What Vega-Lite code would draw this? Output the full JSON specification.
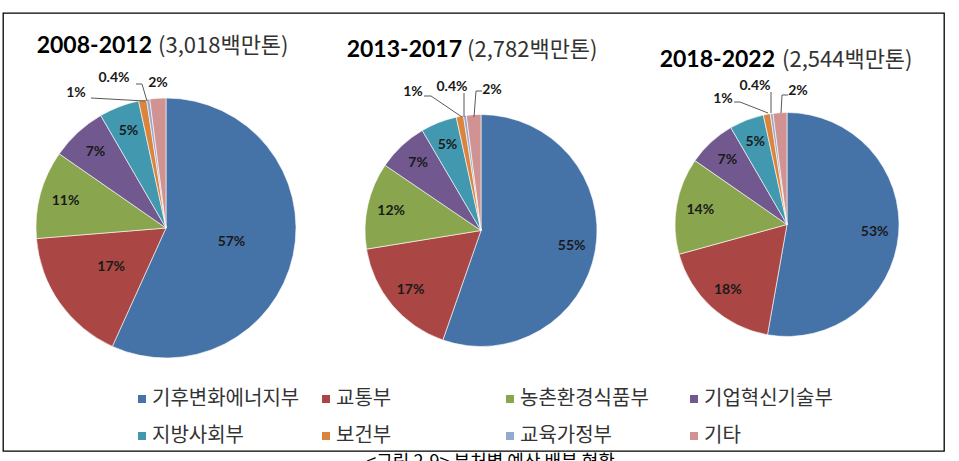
{
"$schema": "https://vega.github.io/schema/vega-lite/v6.json",
"width": 941, "height": 438, "autosize": "none",
"padding": {"left": 3, "top": 13, "right": 15, "bottom": 10},
"background": "white",
"config": {"view": {"stroke": "#000000", "strokeWidth": 1.3}},
"title": {"text": "<그림 2-9> 부처별 예산 배분 현황", "orient": "bottom", "anchor": "middle", "offset": 3, "dx": 17, "font": "Noto Sans CJK KR", "fontSize": 18, "fontWeight": "normal", "color": "#000000", "baseline": "top"},
"data": {"values": [
{"period": "2008-2012", "dept": "기후변화에너지부", "ord": 1, "share": 0.57},
{"period": "2008-2012", "dept": "교통부", "ord": 2, "share": 0.17},
{"period": "2008-2012", "dept": "농촌환경식품부", "ord": 3, "share": 0.11},
{"period": "2008-2012", "dept": "기업혁신기술부", "ord": 4, "share": 0.07},
{"period": "2008-2012", "dept": "지방사회부", "ord": 5, "share": 0.05},
{"period": "2008-2012", "dept": "보건부", "ord": 6, "share": 0.01},
{"period": "2008-2012", "dept": "교육가정부", "ord": 7, "share": 0.004},
{"period": "2008-2012", "dept": "기타", "ord": 8, "share": 0.02},
{"period": "2013-2017", "dept": "기후변화에너지부", "ord": 1, "share": 0.55},
{"period": "2013-2017", "dept": "교통부", "ord": 2, "share": 0.17},
{"period": "2013-2017", "dept": "농촌환경식품부", "ord": 3, "share": 0.12},
{"period": "2013-2017", "dept": "기업혁신기술부", "ord": 4, "share": 0.07},
{"period": "2013-2017", "dept": "지방사회부", "ord": 5, "share": 0.05},
{"period": "2013-2017", "dept": "보건부", "ord": 6, "share": 0.01},
{"period": "2013-2017", "dept": "교육가정부", "ord": 7, "share": 0.004},
{"period": "2013-2017", "dept": "기타", "ord": 8, "share": 0.02},
{"period": "2018-2022", "dept": "기후변화에너지부", "ord": 1, "share": 0.53},
{"period": "2018-2022", "dept": "교통부", "ord": 2, "share": 0.18},
{"period": "2018-2022", "dept": "농촌환경식품부", "ord": 3, "share": 0.14},
{"period": "2018-2022", "dept": "기업혁신기술부", "ord": 4, "share": 0.07},
{"period": "2018-2022", "dept": "지방사회부", "ord": 5, "share": 0.05},
{"period": "2018-2022", "dept": "보건부", "ord": 6, "share": 0.01},
{"period": "2018-2022", "dept": "교육가정부", "ord": 7, "share": 0.004},
{"period": "2018-2022", "dept": "기타", "ord": 8, "share": 0.02}
]},
"layer": [
{
"transform": [{"filter": "datum.period == '2008-2012'"}],
"layer": [
{"mark": {"type": "arc", "radius": 130, "yOffset": -4, "stroke": "#ffffff", "strokeWidth": 0.6},
 "encoding": {
  "x": {"field": "period", "type": "nominal", "scale": {"type": "point", "domain": ["2008-2012", "2013-2017", "2018-2022"], "range": [163, 784], "padding": 0}, "axis": null},
  "theta": {"field": "share", "type": "quantitative", "stack": "normalize"},
  "order": {"field": "ord", "type": "quantitative"},
  "color": {"field": "dept", "type": "nominal",
   "scale": {"domain": ["기후변화에너지부", "지방사회부", "교통부", "보건부", "농촌환경식품부", "교육가정부", "기업혁신기술부", "기타"], "range": ["#4572A7", "#4198AF", "#AA4643", "#DB843D", "#89A54E", "#93A9CF", "#71588F", "#D19392"]},
   "legend": {"orient": "none", "legendX": 129, "legendY": 376, "title": null, "columns": 4, "gridAlign": "all", "columnPadding": 16, "rowPadding": 17, "symbolType": "square", "symbolSize": 64, "symbolStrokeWidth": 0, "labelFont": "Noto Sans CJK KR", "labelFontSize": 20, "labelColor": "#333333", "labelOffset": 0, "labelLimit": 300, "padding": 0}}
 }},
{"mark": {"type": "text", "radius": 67, "yOffset": -4, "font": "Lato", "fontWeight": "bold", "fontSize": 14, "fill": "#1a1a1a", "align": "center", "baseline": "middle"},
 "encoding": {
  "x": {"field": "period", "type": "nominal", "axis": null},
  "theta": {"field": "share", "type": "quantitative", "stack": "normalize"},
  "order": {"field": "ord", "type": "quantitative"},
  "detail": {"field": "dept", "type": "nominal"},
  "text": {"condition": {"test": "datum.ord <= 2", "field": "share", "format": ".2~%"}, "value": ""}
 }},
{"mark": {"type": "text", "radius": 104, "yOffset": -4, "font": "Lato", "fontWeight": "bold", "fontSize": 14, "fill": "#1a1a1a", "align": "center", "baseline": "middle"},
 "encoding": {
  "x": {"field": "period", "type": "nominal", "axis": null},
  "theta": {"field": "share", "type": "quantitative", "stack": "normalize"},
  "order": {"field": "ord", "type": "quantitative"},
  "detail": {"field": "dept", "type": "nominal"},
  "text": {"condition": {"test": "datum.ord >= 3 && datum.ord <= 5", "field": "share", "format": ".2~%"}, "value": ""}
 }},
{"transform": [{"filter": "datum.ord == 6"}],
 "mark": {"type": "text", "dx": -90, "dy": -139, "font": "Lato", "fontWeight": "bold", "fontSize": 14, "fill": "#1a1a1a", "align": "center", "baseline": "middle"},
 "encoding": {"x": {"field": "period", "type": "nominal", "axis": null}, "text": {"field": "share", "format": ".2~%"}}},
{"transform": [{"filter": "datum.ord == 7"}],
 "mark": {"type": "text", "dx": -52, "dy": -154, "font": "Lato", "fontWeight": "bold", "fontSize": 14, "fill": "#1a1a1a", "align": "center", "baseline": "middle"},
 "encoding": {"x": {"field": "period", "type": "nominal", "axis": null}, "text": {"field": "share", "format": ".2~%"}}},
{"transform": [{"filter": "datum.ord == 8"}],
 "mark": {"type": "text", "dx": -8, "dy": -149, "font": "Lato", "fontWeight": "bold", "fontSize": 14, "fill": "#1a1a1a", "align": "center", "baseline": "middle"},
 "encoding": {"x": {"field": "period", "type": "nominal", "axis": null}, "text": {"field": "share", "format": ".2~%"}}},
{"transform": [{"filter": "datum.ord == 6"}],
 "mark": {"type": "rule", "xOffset": -75, "x2Offset": -21, "yOffset": -134, "y2Offset": -131, "stroke": "#595959", "strokeWidth": 1},
 "encoding": {"x": {"field": "period", "type": "nominal", "axis": null}, "x2": {"field": "period"}, "y": {"datum": 0, "type": "quantitative", "scale": {"domain": [-1, 1]}, "axis": null}, "y2": {"datum": 0}}},
{"transform": [{"filter": "datum.ord == 7"}],
 "mark": {"type": "rule", "xOffset": -30, "x2Offset": -24, "yOffset": -148, "y2Offset": -148, "stroke": "#595959", "strokeWidth": 1},
 "encoding": {"x": {"field": "period", "type": "nominal", "axis": null}, "x2": {"field": "period"}, "y": {"datum": 0, "type": "quantitative", "scale": {"domain": [-1, 1]}, "axis": null}, "y2": {"datum": 0}}},
{"transform": [{"filter": "datum.ord == 7"}],
 "mark": {"type": "rule", "xOffset": -24, "x2Offset": -19, "yOffset": -148, "y2Offset": -131, "stroke": "#595959", "strokeWidth": 1},
 "encoding": {"x": {"field": "period", "type": "nominal", "axis": null}, "x2": {"field": "period"}, "y": {"datum": 0, "type": "quantitative", "scale": {"domain": [-1, 1]}, "axis": null}, "y2": {"datum": 0}}},
{"transform": [{"filter": "datum.ord == 1"}],
 "mark": {"type": "text", "align": "right", "baseline": "alphabetic", "dx": -14, "dy": -179, "font": "Lato", "fontWeight": "bold", "fontSize": 23, "fill": "#000000"},
 "encoding": {"x": {"field": "period", "type": "nominal", "axis": null}, "text": {"field": "period"}}},
{"transform": [{"filter": "datum.ord == 1"}],
 "mark": {"type": "text", "align": "left", "baseline": "alphabetic", "dx": -8, "dy": -179, "font": "Noto Sans CJK KR", "fontSize": 22, "fill": "#333333"},
 "encoding": {"x": {"field": "period", "type": "nominal", "axis": null}, "text": {"value": "(3,018백만톤)"}}}
]
},
{
"transform": [{"filter": "datum.period == '2013-2017'"}],
"layer": [
{"mark": {"type": "arc", "radius": 116, "xOffset": 4.5, "yOffset": -1.5, "stroke": "#ffffff", "strokeWidth": 0.6},
 "encoding": {
  "x": {"field": "period", "type": "nominal", "axis": null},
  "theta": {"field": "share", "type": "quantitative", "stack": "normalize"},
  "order": {"field": "ord", "type": "quantitative"},
  "color": {"field": "dept", "type": "nominal",
   "scale": {"domain": ["기후변화에너지부", "지방사회부", "교통부", "보건부", "농촌환경식품부", "교육가정부", "기업혁신기술부", "기타"], "range": ["#4572A7", "#4198AF", "#AA4643", "#DB843D", "#89A54E", "#93A9CF", "#71588F", "#D19392"]},
   "legend": {"orient": "none", "legendX": 129, "legendY": 376, "title": null, "columns": 4, "gridAlign": "all", "columnPadding": 16, "rowPadding": 17, "symbolType": "square", "symbolSize": 64, "symbolStrokeWidth": 0, "labelFont": "Noto Sans CJK KR", "labelFontSize": 20, "labelColor": "#333333", "labelOffset": 0, "labelLimit": 300, "padding": 0}}
 }},
{"mark": {"type": "text", "radius": 92, "xOffset": 4.5, "yOffset": -1.5, "font": "Lato", "fontWeight": "bold", "fontSize": 14, "fill": "#1a1a1a", "align": "center", "baseline": "middle"},
 "encoding": {
  "x": {"field": "period", "type": "nominal", "axis": null},
  "theta": {"field": "share", "type": "quantitative", "stack": "normalize"},
  "order": {"field": "ord", "type": "quantitative"},
  "detail": {"field": "dept", "type": "nominal"},
  "text": {"condition": {"test": "datum.ord <= 5", "field": "share", "format": ".2~%"}, "value": ""}
 }},
{"transform": [{"filter": "datum.ord == 6"}],
 "mark": {"type": "text", "dx": -63.5, "dy": -140, "font": "Lato", "fontWeight": "bold", "fontSize": 14, "fill": "#1a1a1a", "align": "center", "baseline": "middle"},
 "encoding": {"x": {"field": "period", "type": "nominal", "axis": null}, "text": {"field": "share", "format": ".2~%"}}},
{"transform": [{"filter": "datum.ord == 7"}],
 "mark": {"type": "text", "dx": -24.5, "dy": -145, "font": "Lato", "fontWeight": "bold", "fontSize": 14, "fill": "#1a1a1a", "align": "center", "baseline": "middle"},
 "encoding": {"x": {"field": "period", "type": "nominal", "axis": null}, "text": {"field": "share", "format": ".2~%"}}},
{"transform": [{"filter": "datum.ord == 8"}],
 "mark": {"type": "text", "dx": 15.5, "dy": -142, "font": "Lato", "fontWeight": "bold", "fontSize": 14, "fill": "#1a1a1a", "align": "center", "baseline": "middle"},
 "encoding": {"x": {"field": "period", "type": "nominal", "axis": null}, "text": {"field": "share", "format": ".2~%"}}},
{"transform": [{"filter": "datum.ord == 6"}],
 "mark": {"type": "rule", "xOffset": -52.5, "x2Offset": -45.5, "yOffset": -136, "y2Offset": -136, "stroke": "#595959", "strokeWidth": 1},
 "encoding": {"x": {"field": "period", "type": "nominal", "axis": null}, "x2": {"field": "period"}, "y": {"datum": 0, "type": "quantitative", "scale": {"domain": [-1, 1]}, "axis": null}, "y2": {"datum": 0}}},
{"transform": [{"filter": "datum.ord == 6"}],
 "mark": {"type": "rule", "xOffset": -45.5, "x2Offset": -14.5, "yOffset": -136, "y2Offset": -115, "stroke": "#595959", "strokeWidth": 1},
 "encoding": {"x": {"field": "period", "type": "nominal", "axis": null}, "x2": {"field": "period"}, "y": {"datum": 0, "type": "quantitative", "scale": {"domain": [-1, 1]}, "axis": null}, "y2": {"datum": 0}}},
{"transform": [{"filter": "datum.ord == 7"}],
 "mark": {"type": "rule", "xOffset": -12.5, "x2Offset": -12.5, "yOffset": -139, "y2Offset": -115, "stroke": "#595959", "strokeWidth": 1},
 "encoding": {"x": {"field": "period", "type": "nominal", "axis": null}, "x2": {"field": "period"}, "y": {"datum": 0, "type": "quantitative", "scale": {"domain": [-1, 1]}, "axis": null}, "y2": {"datum": 0}}},
{"transform": [{"filter": "datum.ord == 8"}],
 "mark": {"type": "rule", "xOffset": 5.5, "x2Offset": -0.5, "yOffset": -141, "y2Offset": -141, "stroke": "#595959", "strokeWidth": 1},
 "encoding": {"x": {"field": "period", "type": "nominal", "axis": null}, "x2": {"field": "period"}, "y": {"datum": 0, "type": "quantitative", "scale": {"domain": [-1, 1]}, "axis": null}, "y2": {"datum": 0}}},
{"transform": [{"filter": "datum.ord == 8"}],
 "mark": {"type": "rule", "xOffset": -0.5, "x2Offset": -2.5, "yOffset": -141, "y2Offset": -115, "stroke": "#595959", "strokeWidth": 1},
 "encoding": {"x": {"field": "period", "type": "nominal", "axis": null}, "x2": {"field": "period"}, "y": {"datum": 0, "type": "quantitative", "scale": {"domain": [-1, 1]}, "axis": null}, "y2": {"datum": 0}}},
{"transform": [{"filter": "datum.ord == 1"}],
 "mark": {"type": "text", "align": "right", "baseline": "alphabetic", "dx": -14.5, "dy": -175, "font": "Lato", "fontWeight": "bold", "fontSize": 23, "fill": "#000000"},
 "encoding": {"x": {"field": "period", "type": "nominal", "axis": null}, "text": {"field": "period"}}},
{"transform": [{"filter": "datum.ord == 1"}],
 "mark": {"type": "text", "align": "left", "baseline": "alphabetic", "dx": -9.5, "dy": -175, "font": "Noto Sans CJK KR", "fontSize": 22, "fill": "#333333"},
 "encoding": {"x": {"field": "period", "type": "nominal", "axis": null}, "text": {"value": "(2,782백만톤)"}}}
]
},
{
"transform": [{"filter": "datum.period == '2018-2022'"}],
"layer": [
{"mark": {"type": "arc", "radius": 112, "yOffset": -7.5, "stroke": "#ffffff", "strokeWidth": 0.6},
 "encoding": {
  "x": {"field": "period", "type": "nominal", "axis": null},
  "theta": {"field": "share", "type": "quantitative", "stack": "normalize"},
  "order": {"field": "ord", "type": "quantitative"},
  "color": {"field": "dept", "type": "nominal",
   "scale": {"domain": ["기후변화에너지부", "지방사회부", "교통부", "보건부", "농촌환경식품부", "교육가정부", "기업혁신기술부", "기타"], "range": ["#4572A7", "#4198AF", "#AA4643", "#DB843D", "#89A54E", "#93A9CF", "#71588F", "#D19392"]},
   "legend": {"orient": "none", "legendX": 129, "legendY": 376, "title": null, "columns": 4, "gridAlign": "all", "columnPadding": 16, "rowPadding": 17, "symbolType": "square", "symbolSize": 64, "symbolStrokeWidth": 0, "labelFont": "Noto Sans CJK KR", "labelFontSize": 20, "labelColor": "#333333", "labelOffset": 0, "labelLimit": 300, "padding": 0}}
 }},
{"mark": {"type": "text", "radius": 88, "yOffset": -7.5, "font": "Lato", "fontWeight": "bold", "fontSize": 14, "fill": "#1a1a1a", "align": "center", "baseline": "middle"},
 "encoding": {
  "x": {"field": "period", "type": "nominal", "axis": null},
  "theta": {"field": "share", "type": "quantitative", "stack": "normalize"},
  "order": {"field": "ord", "type": "quantitative"},
  "detail": {"field": "dept", "type": "nominal"},
  "text": {"condition": {"test": "datum.ord <= 5", "field": "share", "format": ".2~%"}, "value": ""}
 }},
{"transform": [{"filter": "datum.ord == 6"}],
 "mark": {"type": "text", "dx": -64, "dy": -133, "font": "Lato", "fontWeight": "bold", "fontSize": 14, "fill": "#1a1a1a", "align": "center", "baseline": "middle"},
 "encoding": {"x": {"field": "period", "type": "nominal", "axis": null}, "text": {"field": "share", "format": ".2~%"}}},
{"transform": [{"filter": "datum.ord == 7"}],
 "mark": {"type": "text", "dx": -32, "dy": -146, "font": "Lato", "fontWeight": "bold", "fontSize": 14, "fill": "#1a1a1a", "align": "center", "baseline": "middle"},
 "encoding": {"x": {"field": "period", "type": "nominal", "axis": null}, "text": {"field": "share", "format": ".2~%"}}},
{"transform": [{"filter": "datum.ord == 8"}],
 "mark": {"type": "text", "dx": 11, "dy": -141, "font": "Lato", "fontWeight": "bold", "fontSize": 14, "fill": "#1a1a1a", "align": "center", "baseline": "middle"},
 "encoding": {"x": {"field": "period", "type": "nominal", "axis": null}, "text": {"field": "share", "format": ".2~%"}}},
{"transform": [{"filter": "datum.ord == 6"}],
 "mark": {"type": "rule", "xOffset": -53, "x2Offset": -47, "yOffset": -130, "y2Offset": -130, "stroke": "#595959", "strokeWidth": 1},
 "encoding": {"x": {"field": "period", "type": "nominal", "axis": null}, "x2": {"field": "period"}, "y": {"datum": 0, "type": "quantitative", "scale": {"domain": [-1, 1]}, "axis": null}, "y2": {"datum": 0}}},
{"transform": [{"filter": "datum.ord == 6"}],
 "mark": {"type": "rule", "xOffset": -47, "x2Offset": -19, "yOffset": -130, "y2Offset": -119, "stroke": "#595959", "strokeWidth": 1},
 "encoding": {"x": {"field": "period", "type": "nominal", "axis": null}, "x2": {"field": "period"}, "y": {"datum": 0, "type": "quantitative", "scale": {"domain": [-1, 1]}, "axis": null}, "y2": {"datum": 0}}},
{"transform": [{"filter": "datum.ord == 7"}],
 "mark": {"type": "rule", "xOffset": -16, "x2Offset": -16, "yOffset": -140, "y2Offset": -119, "stroke": "#595959", "strokeWidth": 1},
 "encoding": {"x": {"field": "period", "type": "nominal", "axis": null}, "x2": {"field": "period"}, "y": {"datum": 0, "type": "quantitative", "scale": {"domain": [-1, 1]}, "axis": null}, "y2": {"datum": 0}}},
{"transform": [{"filter": "datum.ord == 8"}],
 "mark": {"type": "rule", "xOffset": 1, "x2Offset": -5, "yOffset": -137, "y2Offset": -137, "stroke": "#595959", "strokeWidth": 1},
 "encoding": {"x": {"field": "period", "type": "nominal", "axis": null}, "x2": {"field": "period"}, "y": {"datum": 0, "type": "quantitative", "scale": {"domain": [-1, 1]}, "axis": null}, "y2": {"datum": 0}}},
{"transform": [{"filter": "datum.ord == 8"}],
 "mark": {"type": "rule", "xOffset": -5, "x2Offset": -6, "yOffset": -137, "y2Offset": -119, "stroke": "#595959", "strokeWidth": 1},
 "encoding": {"x": {"field": "period", "type": "nominal", "axis": null}, "x2": {"field": "period"}, "y": {"datum": 0, "type": "quantitative", "scale": {"domain": [-1, 1]}, "axis": null}, "y2": {"datum": 0}}},
{"transform": [{"filter": "datum.ord == 1"}],
 "mark": {"type": "text", "align": "right", "baseline": "alphabetic", "dx": -12, "dy": -165, "font": "Lato", "fontWeight": "bold", "fontSize": 23, "fill": "#000000"},
 "encoding": {"x": {"field": "period", "type": "nominal", "axis": null}, "text": {"field": "period"}}},
{"transform": [{"filter": "datum.ord == 1"}],
 "mark": {"type": "text", "align": "left", "baseline": "alphabetic", "dx": -5, "dy": -165, "font": "Noto Sans CJK KR", "fontSize": 22, "fill": "#333333"},
 "encoding": {"x": {"field": "period", "type": "nominal", "axis": null}, "text": {"value": "(2,544백만톤)"}}}
]
}
]
}
